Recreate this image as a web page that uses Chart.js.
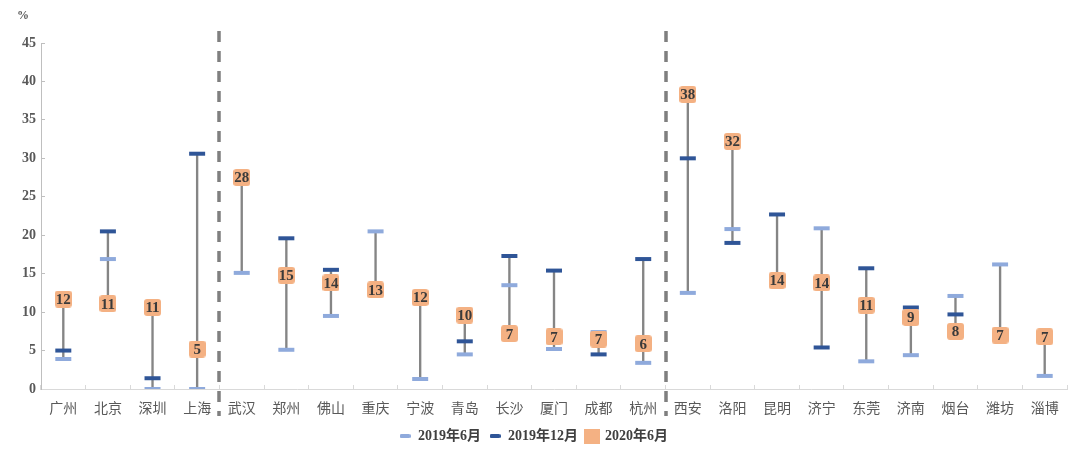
<!DOCTYPE html>
<html><head><meta charset="utf-8">
<script src="https://cdn.jsdelivr.net/npm/chart.js@4"></script>
<style>html,body{margin:0;padding:0;background:#fff}#wrap{width:1080px;height:453px}</style>
</head><body><div id="wrap"><canvas id="c" width="1080" height="453"></canvas></div>
<script>
const categories = ['广州','北京','深圳','上海','武汉','郑州','佛山','重庆','宁波','青岛','长沙','厦门','成都','杭州','西安','洛阳','昆明','济宁','东莞','济南','烟台','潍坊','淄博'];
const jun2019 = [3.9,16.9,0,0,15.1,5.1,9.5,20.5,1.3,4.5,13.5,5.2,7.4,3.4,12.5,20.8,14.1,20.9,3.6,4.4,12.1,16.2,1.7];
const dec2019 = [5.0,20.5,1.4,30.6,27.5,19.6,15.5,12.9,11.9,6.2,17.3,15.4,4.5,16.9,30.0,19.0,22.7,5.4,15.7,10.6,9.7,7.0,6.8];
const jun2020 = [11.7,11.1,10.6,5.2,27.5,14.8,13.8,12.9,11.9,9.6,7.2,6.8,6.5,5.9,38.3,32.2,14.1,13.8,10.9,9.3,7.5,7.0,6.8];
const yTicks = [0,5,10,15,20,25,30,35,40,45];
const seriesNames = ['2019年6月','2019年12月','2020年6月'];
const dividerAfter = [3, 13];
const unitLabel = '%';

const C_LIGHT = '#8FAADC', C_DARK = '#2F5597', C_ORANGE = '#F4B183', C_GRAY = '#7F7F7F';

function makeImg(w, h, color, r) {
  const cv = document.createElement('canvas');
  cv.width = w; cv.height = h;
  const g = cv.getContext('2d');
  g.fillStyle = color;
  g.beginPath();
  if (g.roundRect) g.roundRect(0, 0, w, h, r); else g.rect(0, 0, w, h);
  g.fill();
  return cv;
}
const orangeBox = makeImg(17, 17, C_ORANGE, 3);
const legLight = makeImg(11, 4, C_LIGHT, 1.5);
const legDark = makeImg(11, 4, C_DARK, 1.5);
const legOrange = makeImg(16, 15, C_ORANGE, 0);

const ranges = categories.map((_, i) => {
  const v = [jun2019[i], dec2019[i], jun2020[i]];
  return [Math.min(...v), Math.max(...v)];
});

const overlay = {
  id: 'overlay',
  beforeDatasetsDraw(chart) {
    const ctx = chart.ctx, x = chart.scales.x, a = chart.chartArea;
    ctx.save();
    ctx.strokeStyle = C_GRAY;
    ctx.lineWidth = 3.5;
    ctx.setLineDash([11, 9]);
    dividerAfter.forEach(i => {
      const px = Math.round((x.getPixelForValue(i) + x.getPixelForValue(i + 1)) / 2);
      ctx.beginPath();
      ctx.moveTo(px, a.top - 12);
      ctx.lineTo(px, a.bottom + 27);
      ctx.stroke();
    });
    ctx.restore();
  },
  afterDatasetsDraw(chart) {
    const ctx = chart.ctx, a = chart.chartArea;
    const meta = chart.getDatasetMeta(0);
    ctx.save();
    ctx.fillStyle = '#3A3A3A';
    ctx.font = 'bold 15px "Liberation Serif", "Times New Roman", serif';
    ctx.textAlign = 'center';
    ctx.textBaseline = 'middle';
    meta.data.forEach((el, i) => {
      ctx.fillText(String(Math.round(jun2020[i])), el.x, el.y + 1);
    });
    ctx.fillStyle = '#595959';
    ctx.font = 'bold 12px "Liberation Serif", serif';
    ctx.textAlign = 'left';
    ctx.fillText(unitLabel, a.left - 24, a.top - 27);
    ctx.restore();
  }
};

new Chart(document.getElementById('c'), {
  type: 'bar',
  data: {
    labels: categories,
    datasets: [
      { type: 'line', label: seriesNames[2], data: jun2020, showLine: false,
        pointStyle: orangeBox, pointRadius: 9, backgroundColor: C_ORANGE, borderColor: C_ORANGE },
      { type: 'line', label: seriesNames[1], data: dec2019, showLine: false,
        pointStyle: 'line', pointRadius: 8, pointBorderWidth: 4, borderColor: C_DARK, backgroundColor: C_DARK },
      { type: 'line', label: seriesNames[0], data: jun2019, showLine: false,
        pointStyle: 'line', pointRadius: 8, pointBorderWidth: 4, borderColor: C_LIGHT, backgroundColor: C_LIGHT },
      { type: 'bar', label: 'range', data: ranges, backgroundColor: '#858585', borderWidth: 0,
        barThickness: 1.7 }
    ]
  },
  options: {
    responsive: false,
    animation: false,
    events: [],
    layout: { padding: { left: 0, right: 13, top: 43, bottom: 0 } },
    scales: {
      x: {
        type: 'category', offset: true,
        grid: { offset: true, drawOnChartArea: false, tickLength: -4, color: '#D9D9D9' },
        border: { color: '#D9D9D9', width: 1 },
        ticks: { padding: 14, color: '#595959', font: { family: '"Noto Sans CJK SC", sans-serif', size: 14 } },
        afterFit(s) { s.height = 32; }
      },
      y: {
        min: 0, max: 45,
        afterBuildTicks(s) { s.ticks = yTicks.map(v => ({ value: v })); },
        grid: { drawOnChartArea: false, tickLength: -4, color: '#BFBFBF' },
        border: { color: '#BFBFBF', width: 1 },
        ticks: { padding: 9, color: '#595959', font: { family: '"Liberation Serif", serif', size: 14, weight: 'bold' } },
        afterFit(s) { s.width = 41; }
      }
    },
    plugins: {
      tooltip: { enabled: false },
      legend: {
        position: 'bottom',
        labels: {
          usePointStyle: true, pointStyleWidth: 12, boxHeight: 14, padding: 8,
          color: '#404040',
          font: { family: '"Liberation Serif", "Noto Sans CJK SC", serif', size: 14, weight: 'bold' },
          generateLabels() {
            return [
              { text: seriesNames[0], pointStyle: legLight, fillStyle: C_LIGHT, strokeStyle: C_LIGHT, lineWidth: 0, fontColor: '#404040', datasetIndex: 2 },
              { text: seriesNames[1], pointStyle: legDark, fillStyle: C_DARK, strokeStyle: C_DARK, lineWidth: 0, fontColor: '#404040', datasetIndex: 1 },
              { text: seriesNames[2], pointStyle: legOrange, fillStyle: C_ORANGE, strokeStyle: C_ORANGE, lineWidth: 0, fontColor: '#404040', datasetIndex: 0 }
            ];
          }
        }
      }
    }
  },
  plugins: [overlay]
});
</script>
</body></html>
